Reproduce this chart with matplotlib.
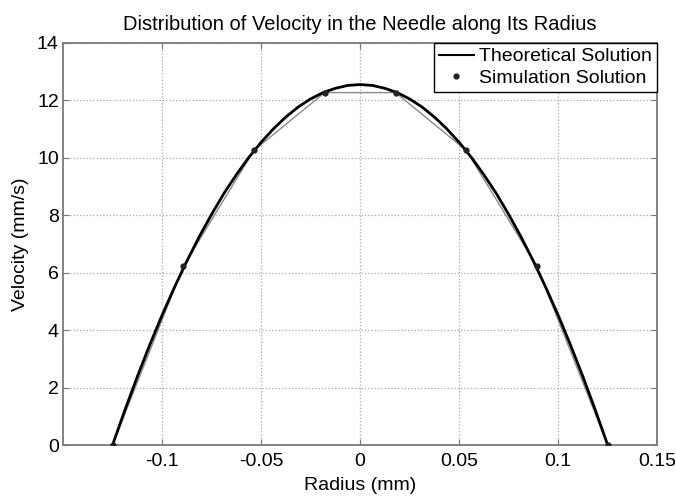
import matplotlib
matplotlib.use("Agg")
import matplotlib.pyplot as plt

plt.rcParams['font.family'] = ['Liberation Sans', 'DejaVu Sans']

# Theoretical profile, values
radius_theory = [-0.125, -0.11875, -0.1125, -0.10625, -0.1, -0.09375, -0.0875,
                 -0.08125, -0.075, -0.06875, -0.0625, -0.05625, -0.05, -0.04375,
                 -0.0375, -0.03125, -0.025, -0.01875, -0.0125, -0.00625, 0.0,
                 0.00625, 0.0125, 0.01875, 0.025, 0.03125, 0.0375, 0.04375,
                 0.05, 0.05625, 0.0625, 0.06875, 0.075, 0.08125, 0.0875,
                 0.09375, 0.1, 0.10625, 0.1125, 0.11875, 0.125]
velocity_theory = [0.0, 1.22, 2.38, 3.48, 4.52, 5.49, 6.40, 7.25, 8.03, 8.76,
                   9.41, 10.01, 10.54, 11.01, 11.42, 11.77, 12.05, 12.27, 12.42,
                   12.52, 12.55, 12.52, 12.42, 12.27, 12.05, 11.77, 11.42, 11.01,
                   10.54, 10.01, 9.41, 8.76, 8.03, 7.25, 6.40, 5.49, 4.52, 3.48,
                   2.38, 1.22, 0.0]

# Simulation points
radius_sim = [-0.125, -0.0893, -0.0536, -0.0179, 0.0179, 0.0536, 0.0893, 0.125]
velocity_sim = [0.0, 6.22, 10.26, 12.27, 12.27, 10.26, 6.22, 0.0]

x_ticks = [-0.1, -0.05, 0, 0.05, 0.1, 0.15]
x_tick_labels = ['-0.1', '-0.05', '0', '0.05', '0.1', '0.15']
y_ticks = [0, 2, 4, 6, 8, 10, 12, 14]

FS = 14

fig = plt.figure(figsize=(6.76, 4.99), dpi=100)
ax = fig.add_axes([0.0932, 0.108, 0.879, 0.806])

ax.plot(radius_sim, velocity_sim, color='#8a8a8a', linewidth=1.0, zorder=2)
ax.plot(radius_theory, velocity_theory, color='black', linewidth=2.0,
        label='Theoretical Solution', zorder=3)
ax.plot(radius_sim, velocity_sim, linestyle='none', marker='.', markersize=7,
        color='#222222', label='Simulation Solution', zorder=4)

ax.set_xlim(-0.15, 0.15)
ax.set_ylim(0, 14)
ax.set_xticks(x_ticks)
ax.set_xticklabels(x_tick_labels)
ax.set_yticks(y_ticks)
ax.tick_params(direction='in', top=True, right=True, labelsize=FS,
               length=4, color='#777777')
ax.tick_params(axis='x', pad=6)
ax.tick_params(axis='y', pad=3)
for s in ax.spines.values():
    s.set_color('#7a7a7a')
    s.set_linewidth(1.3)
ax.grid(True, linestyle=':', color='#aaaaaa', linewidth=0.9)

ax.set_title('Distribution of Velocity in the Needle along Its Radius',
             fontsize=14.5, pad=9)
ax.set_xlabel('Radius (mm)', fontsize=FS, labelpad=5)
ax.set_ylabel('Velocity (mm/s)', fontsize=FS, labelpad=6)

leg = ax.legend(loc='upper right', fontsize=FS, fancybox=False, framealpha=1,
                edgecolor='black', borderaxespad=0, handlelength=1.8,
                borderpad=0.25, labelspacing=0.2, handletextpad=0.3)
leg.get_frame().set_linewidth(1.0)
leg.get_lines()[0].set_linewidth(1.5)

fig.savefig('out.png', dpi=100)
